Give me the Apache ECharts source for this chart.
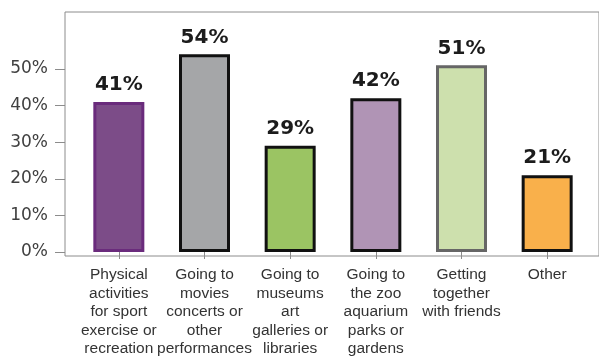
<!DOCTYPE html>
<html>
<head>
<meta charset="utf-8">
<script src="https://cdn.jsdelivr.net/npm/echarts@6/dist/echarts.min.js"></script>
<style>html,body{margin:0;padding:0;background:#fff}#c{width:599px;height:358px}</style>
</head>
<body>
<div id="c"></div>
<script>
var categories = [
  "Physical\nactivities\nfor sport\nexercise or\nrecreation",
  "Going to\nmovies\nconcerts or\nother\nperformances",
  "Going to\nmuseums\nart\ngalleries or\nlibraries",
  "Going to\nthe zoo\naquarium\nparks or\ngardens",
  "Getting\ntogether\nwith friends",
  "Other"
];
var values = [41, 54, 29, 42, 51, 21];
var yTicks = [0, 10, 20, 30, 40, 50];

var fills = ["#7c4c88", "#a5a6a8", "#9bc463", "#b094b5", "#cde0ad", "#f9b04b"];
var borders = ["#6a2b7c", "#111111", "#111111", "#111111", "#666666", "#111111"];

var chart = echarts.init(document.getElementById('c'), null, {renderer: 'canvas'});
chart.setOption({
  animation: false,
  grid: [
    {left: 76, right: 9, top: 69, bottom: 102},
    {left: 65, right: -2, top: 12, bottom: 102, show: true, borderColor: '#8c8c8c', borderWidth: 1, backgroundColor: 'transparent'}
  ],
  xAxis: [
    {
      type: 'category', gridIndex: 0, data: categories,
      axisLine: {show: false},
      axisTick: {show: true, alignWithLabel: true, length: 7, lineStyle: {color: '#8c8c8c'}},
      axisLabel: {interval: 0, margin: 14, color: '#333', fontFamily: 'Liberation Sans, Arial', fontSize: 15.5, lineHeight: 18.4, verticalAlign: 'top'}
    },
    {type: 'value', gridIndex: 1, show: false}
  ],
  yAxis: [
    {
      type: 'value', gridIndex: 0, min: yTicks[0], max: yTicks[yTicks.length - 1], interval: 10, offset: 11,
      splitLine: {show: false},
      axisLine: {show: false},
      axisTick: {show: true, length: 10, lineStyle: {color: '#8c8c8c'}},
      axisLabel: {margin: 17, color: '#404040', fontFamily: 'DejaVu Sans', fontSize: 17, formatter: '{value}%'}
    },
    {type: 'value', gridIndex: 1, show: false}
  ],
  series: [{
    type: 'bar', xAxisIndex: 0, yAxisIndex: 0, clip: false,
    barWidth: 51,
    data: values.map(function (v, i) {
      return {value: v, itemStyle: {color: fills[i], borderColor: borders[i], borderWidth: 3}};
    }),
    label: {show: true, position: 'top', distance: 7, formatter: '{c}%', color: '#1c1c1c', fontFamily: 'DejaVu Sans', fontWeight: 'bold', fontSize: 20}
  }]
});
</script>
</body>
</html>
